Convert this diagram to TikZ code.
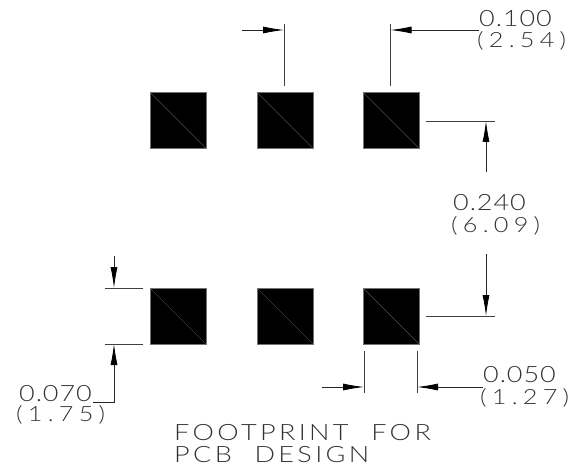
\documentclass[tikz,border=0pt]{standalone}
\usepackage{fontspec}
\usetikzlibrary{arrows.meta}
\setmainfont{Lato}[UprightFont=* Light,FakeStretch=1.2]
\tikzset{
 x=1pt,y=-1pt,
 pad/.style={draw=black!55,line width=.6pt,fill=black,minimum size=56pt,inner sep=0pt,outer sep=0pt},
 diag/.style={draw=black!60,line width=.35pt},
 ext/.style={draw=black!75,line width=.8pt},
 dim/.style={draw=black!85,line width=.8pt,-{Latex[length=21pt,width=7pt,black]}},
 lbl/.style={anchor=base west,inner sep=0pt,text=black!80,font=\fontsize{22.5}{22.5}\addfontfeature{LetterSpace=4}},
 lblp/.style={anchor=base west,inner sep=0pt,text=black!80,font=\fontsize{21}{21}\addfontfeature{LetterSpace=25}},
 ttl/.style={anchor=base west,inner sep=0pt,text=black!80,font=\fontsize{22.5}{22.5}\addfontfeature{LetterSpace=15}},
}
\begin{document}
\begin{tikzpicture}
\useasboundingbox (0,0) rectangle (577,465);
\foreach \n/\cx/\cy in {a/178/120.5,b/285/120.5,c/391/120.5,d/178/316,e/285/316,f/391/316}{
  \node[pad] (\n) at (\cx,\cy) {};
  \draw[diag] (\n.north west) -- (\n.south east);
}
% 0.100 dimension
\coordinate (t1a) at (284,24); \coordinate (t1b) at (284,86);
\coordinate (t2a) at (390.5,24); \coordinate (t2b) at (390.5,86);
\coordinate (t1m) at (284,30); \coordinate (t2m) at (390.5,30);
\coordinate (t0) at (242,30); \coordinate (t3) at (479,30);
\draw[ext] (t1a) -- (t1b);
\draw[ext] (t2a) -- (t2b);
\draw[dim] (t0) -- (t1m);
\draw[dim] (t3) -- (t2m);
\node[lbl] (l100) at (479,27) {0.100};
\node[lblp] (m254) at (477,48) {(2.54)};
% 0.240 dimension
\coordinate (r1a) at (426,121); \coordinate (r1b) at (495,121);
\coordinate (r2a) at (426,316); \coordinate (r2b) at (495,316);
\coordinate (r1m) at (486,121); \coordinate (r2m) at (486,316);
\coordinate (r1s) at (486,172); \coordinate (r2s) at (486,254);
\draw[ext] (r1a) -- (r1b);
\draw[ext] (r2a) -- (r2b);
\draw[dim] (r1s) -- (r1m);
\draw[dim] (r2s) -- (r2m);
\node[lbl] (l240) at (453,210) {0.240};
\node[lblp] (m609) at (451,232) {(6.09)};
% 0.070 dimension
\coordinate (h1a) at (105,288); \coordinate (h1b) at (143,288);
\coordinate (h2a) at (105,344); \coordinate (h2b) at (143,344);
\coordinate (h1m) at (114,288); \coordinate (h2m) at (114,344);
\coordinate (h1s) at (114,256); \coordinate (h2s) at (114,402); \coordinate (h2t) at (93,402);
\draw[ext] (h1a) -- (h1b);
\draw[ext] (h2a) -- (h2b);
\draw[dim] (h1s) -- (h1m);
\draw[dim] (h2t) -- (h2s) -- (h2m);
\node[lbl] (l070) at (19,401.5) {0.070};
\node[lblp] (m175) at (16,421.5) {(1.75)};
% 0.050 dimension
\coordinate (b1a) at (364,351); \coordinate (b1b) at (364,393);
\coordinate (b2a) at (417,351); \coordinate (b2b) at (417,393);
\coordinate (b1m) at (364,387); \coordinate (b2m) at (417,387);
\coordinate (b0) at (322,387); \coordinate (b3) at (483,387);
\draw[ext] (b1a) -- (b1b);
\draw[ext] (b2a) -- (b2b);
\draw[dim] (b0) -- (b1m);
\draw[dim] (b3) -- (b2m);
\node[lbl] (l050) at (483,382.5) {0.050};
\node[lblp] (m127) at (480,404) {(1.27)};
% title
\node[ttl] (t1) at (174,440) {FOOTPRINT\hspace{12pt} FOR};
\node[ttl] (t2) at (174,462) {PCB\hspace{12pt} DESIGN};
\end{tikzpicture}
\end{document}
